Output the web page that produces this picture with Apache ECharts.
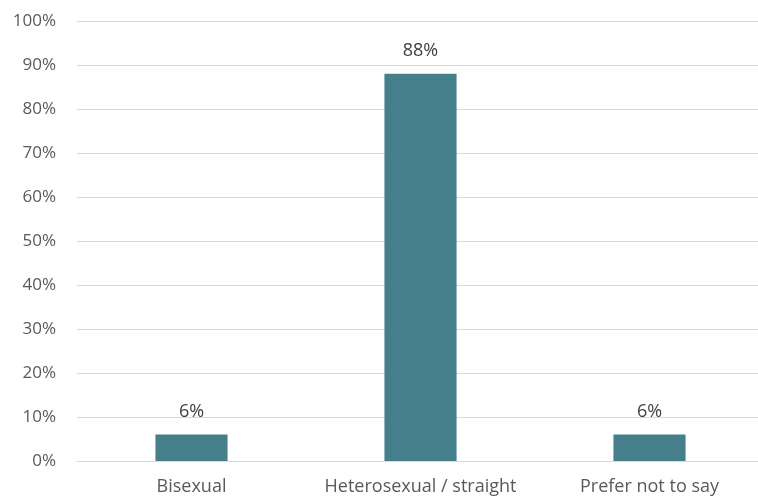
<!DOCTYPE html>
<html><head><meta charset="utf-8">
<script src="https://cdn.jsdelivr.net/npm/echarts@6/dist/echarts.min.js"></script>
<style>html,body{margin:0;padding:0;background:#fff}#c{width:758px;height:497px}</style>
</head><body><div id="c"></div>
<script>
const categories = ["Bisexual", "Heterosexual / straight", "Prefer not to say"];
const values = [6, 88, 6];
const yTicks = [0, 10, 20, 30, 40, 50, 60, 70, 80, 90, 100];

const chart = echarts.init(document.getElementById('c'), null, {renderer: 'canvas'});
const font = "'Open Sans', sans-serif";
chart.setOption({
  animation: false,
  grid: {left: 77, width: 687, top: 21, bottom: 36, containLabel: false, outerBoundsMode: 'none'},
  xAxis: {
    type: 'category', data: categories,
    axisLine: {lineStyle: {color: '#d9d9d9', width: 1}},
    axisTick: {show: false},
    axisLabel: {color: '#595959', fontSize: 18, fontFamily: font, margin: 17, interval: 0}
  },
  yAxis: {
    type: 'value', min: yTicks[0], max: yTicks[yTicks.length-1], interval: 10,
    axisLine: {show: false}, axisTick: {show: false},
    splitLine: {lineStyle: {color: '#d9d9d9', width: 1}},
    axisLabel: {color: '#595959', fontSize: 17, fontFamily: font, margin: 21, formatter: v => v + '%'}
  },
  series: [{
    type: 'bar', data: values, barWidth: '31.5%',
    itemStyle: {color: '#457f8c'},
    label: {show: true, position: 'top', distance: 14, color: '#404040', fontSize: 18, fontFamily: font, formatter: p => p.value + '%'}
  }]
});
</script></body></html>
